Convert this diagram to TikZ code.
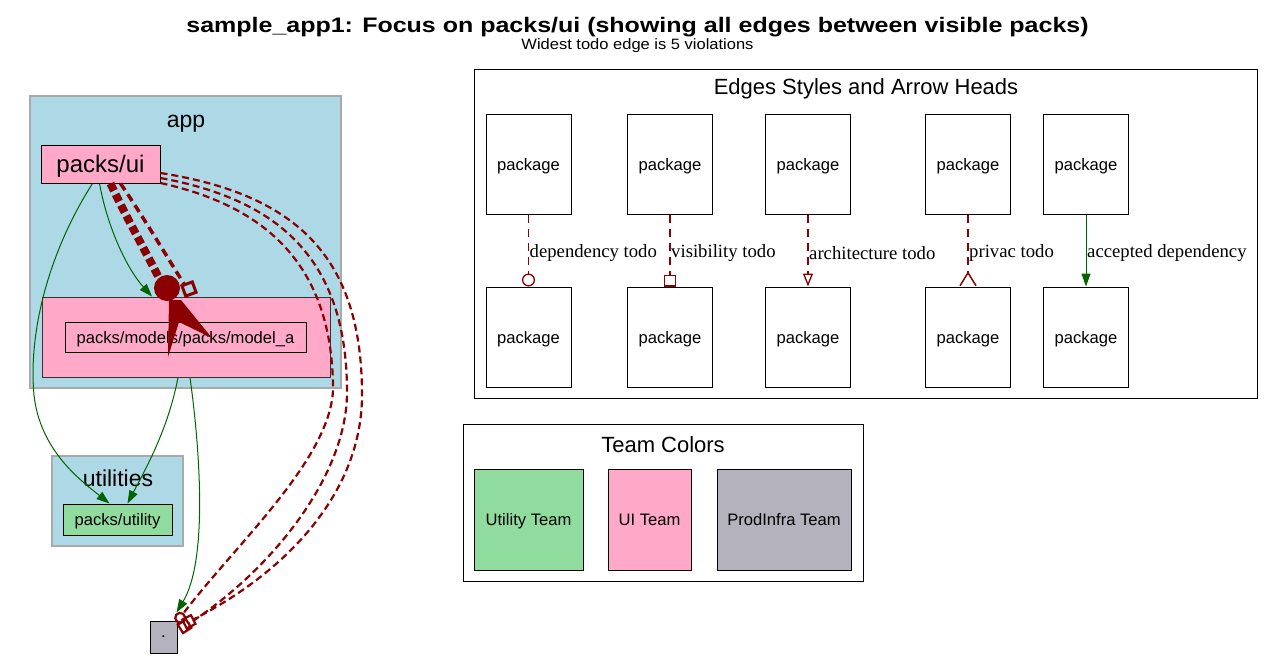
\documentclass[tikz,border=0pt]{standalone}
\usepackage{fontspec}
\setmainfont{Liberation Sans}
\newfontfamily\timesfont{Liberation Serif}
\usetikzlibrary{arrows.meta}
\newcommand\fsz[1]{\fontsize{#1}{#1}\selectfont}
\definecolor{lblue}{HTML}{ADD8E6}
\definecolor{upink}{HTML}{FFA8C8}
\definecolor{ugreen}{HTML}{90DB9E}
\definecolor{ugray}{HTML}{B4B2BD}
\definecolor{dred}{HTML}{8B0000}
\definecolor{dgreen}{HTML}{006400}
\definecolor{cborder}{HTML}{A9A9A9}
\tikzset{
  box/.style={draw=black, line width=1pt, inner sep=0pt, text depth=0pt, font=\fsz{16.6}},
  cluster/.style={draw=cborder, fill=lblue, line width=1.2pt, inner sep=0pt},
  lgbox/.style={draw=black, fill=white, line width=1pt, inner sep=0pt},
  pkgbox/.style={box, fill=white, minimum width=85pt, minimum height=100pt},
  teambox/.style={box, minimum height=101pt},
  dep/.style={draw=dgreen, line width=1pt, -{Triangle[length=13pt,width=9pt]}},
  todoleg/.style={draw=dred, line width=1.2pt, dash pattern=on 8pt off 6pt},
  todo/.style={draw=dred, line width=2.2pt, dash pattern=on 7pt off 4pt},
  elabel/.style={anchor=west, inner sep=0pt, font=\timesfont\fsz{18.7}, text=black},
}
\begin{document}
\begin{tikzpicture}[x=1pt,y=-1pt]
\useasboundingbox (0,0) rectangle (1275,659);
% titles
\node[font=\bfseries\fsz{21}, xscale=1.19] (title) at (637.5,27) {sample\_app1: Focus on packs/ui (showing all edges between visible packs)};
\node[font=\fsz{15}, xscale=1.1] (subtitle) at (637.5,46) {Widest todo edge is 5 violations};

% clusters
\node[cluster, minimum width=311pt, minimum height=292pt] (app) at (185.5,242) {};
\node[font=\fsz{23}, text depth=0pt] (applabel) at (186,121) {app};
\node[cluster, minimum width=131pt, minimum height=90pt] (utilc) at (117.5,501) {};
\node[font=\fsz{23}] (utillabel) at (118,478) {utilities};

% nodes
\node[box, fill=upink, minimum width=119pt, minimum height=38pt, font=\fsz{24}] (ui) at (100.5,164) {packs/ui};
\node[box, fill=upink, draw=black!80, minimum width=288pt, minimum height=80pt] (models) at (186,337) {};
\node[box, fill=upink, minimum width=241pt, minimum height=30pt] (modela) at (185.5,337) {packs/models/packs/model\_a};
\node[box, fill=ugreen, minimum width=109pt, minimum height=31pt] (utility) at (117.5,519.5) {packs/utility};
\node[box, fill=ugray, minimum width=27pt, minimum height=32pt] (dot) at (163.5,637) {.};

% green edges
\draw[dep] ([xshift=-8pt]ui.south) .. controls (50,250) and (28,330) .. (34,395) .. controls (40,450) and (80,480) .. ([xshift=-8pt]utility.north);
\draw[dep] ([xshift=-1pt]ui.south) .. controls (108,230) and (128,270) .. ([xshift=-34pt]models.north);
\draw[dep] ([xshift=-8pt]models.south) .. controls (168,430) and (145,470) .. ([xshift=10pt]utility.north);
\draw[dep] ([xshift=4pt]models.south) .. controls (200,450) and (208,560) .. ([xshift=-1pt,yshift=8pt]dot.north east);

% big todo edges ui -> model_a
\coordinate (thickend) at (160,280);
\coordinate (medend) at (184,284);
\draw[dred, line width=8pt, dash pattern=on 8pt off 4pt] ([xshift=10pt]ui.south) .. controls (125,215) and (145,250) .. (thickend);
\fill[dred] (167,288) circle (13);
\draw[dred, line width=3.5pt, dash pattern=on 8pt off 5pt] ([xshift=20pt]ui.south) .. controls (142,215) and (166,255) .. (medend);
\draw[dred, line width=3pt, rotate around={20:(189,289)}] (183.5,283.5) rectangle (194.5,294.5);
\fill[dred] (169,300) -- (181,300) -- (212,338) -- (179,322) -- (168,357) -- cycle;

% todo edges ui -> .
\draw[todo, -{Circle[open,length=12pt,width=12pt]}] ([yshift=-19pt]ui.east) .. controls (260,205) and (333,260) .. (333,390) .. controls (330,460) and (235,545) .. ([xshift=-1pt,yshift=-2pt]dot.north east);
\draw[todo, -{Square[open,length=12pt,width=12pt]}] ([yshift=-14pt]ui.east) .. controls (280,200) and (347,260) .. (347,392) .. controls (347,480) and (265,575) .. ([xshift=2pt,yshift=-9pt]dot.north east);
\draw[todo, -{Square[open,length=12pt,width=12pt]}] ([yshift=-9pt]ui.east) .. controls (300,195) and (362,260) .. (362,395) .. controls (362,490) and (290,570) .. ([xshift=6pt,yshift=-4pt]dot.north east);

% legend: edges
\node[lgbox, minimum width=783pt, minimum height=329pt] (leg1) at (865.5,233.5) {};
\node[font=\fsz{22}] (leg1t) at (866,89) {Edges Styles and Arrow Heads};
\foreach \i/\x in {1/528.5,2/670,3/808,4/968,5/1086}{
  \node[pkgbox] (t\i) at (\x,164) {package};
  \node[pkgbox] (b\i) at (\x,337) {package};
}
\draw[todoleg, -{Circle[open,length=13pt,width=13pt,line width=1.3pt]}] (t1) -- (b1);
\draw[todoleg, -{Square[open,length=12pt,width=12pt,line width=1.3pt]}] (t2) -- (b2);
\draw[todoleg, -{Triangle[open,length=13pt,width=10pt,line width=1.3pt]}] (t3) -- (b3);
\draw[todoleg, -{Straight Barb[reversed,length=13pt,width=16pt,line width=1.5pt]}] (t4) -- (b4);
\draw[dep] (t5) -- (b5);
\node[elabel] (l1) at (529.5,253) {dependency todo};
\node[elabel] (l2) at (671,253) {visibility todo};
\node[elabel] (l3) at (809,253) {architecture todo};
\node[elabel] (l4) at (969,253) {privac todo};
\node[elabel] (l5) at (1087,253) {accepted dependency};

% legend: teams
\node[lgbox, minimum width=400pt, minimum height=157pt] (leg2) at (663,502.5) {};
\node[font=\fsz{22}] (leg2t) at (663,445) {Team Colors};
\node[teambox, fill=ugreen, minimum width=109pt] (tutil) at (528.5,519.5) {Utility Team};
\node[teambox, fill=upink, minimum width=83pt] (tui) at (649.5,519.5) {UI Team};
\node[teambox, fill=ugray, minimum width=134pt] (tprod) at (784,519.5) {ProdInfra Team};
\end{tikzpicture}
\end{document}
